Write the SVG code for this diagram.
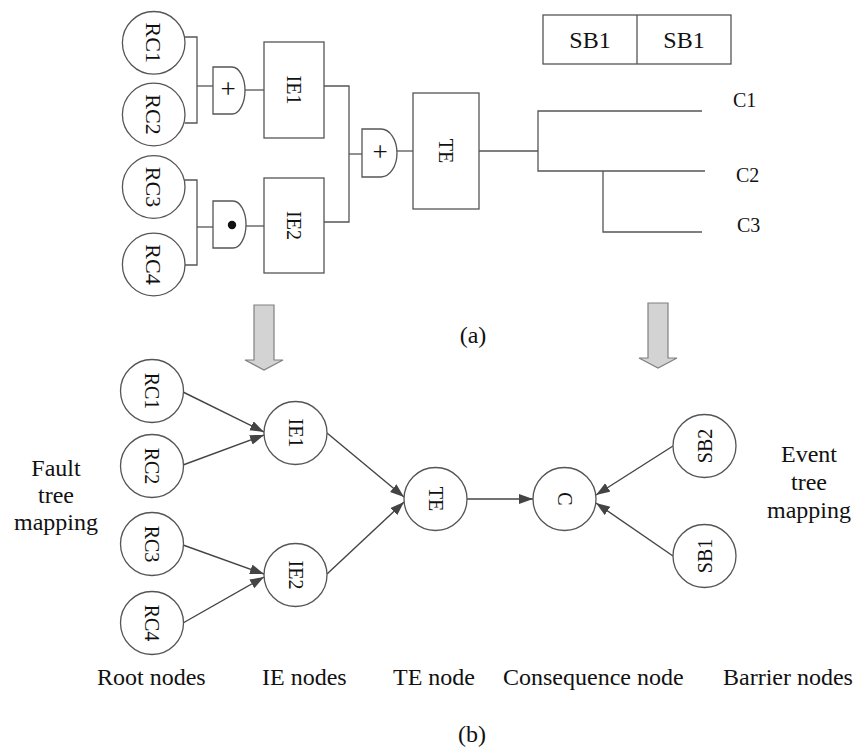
<svg xmlns="http://www.w3.org/2000/svg" width="854" height="749" viewBox="0 0 854 749">
<defs>
<style>
.ln{fill:none;stroke:#555;stroke-width:1.3}
.nd{fill:#fff;stroke:#555;stroke-width:1.3}
.t{font-family:"Liberation Serif","Times New Roman",serif;fill:#111}
.c{text-anchor:middle;dominant-baseline:central}
.ed{fill:none;stroke:#444;stroke-width:1.4;marker-end:url(#ah)}
.ba{fill:#d3d3d3;stroke:#808080;stroke-width:1.2}
</style>
<marker id="ah" markerUnits="userSpaceOnUse" markerWidth="15" markerHeight="11" refX="14" refY="5" orient="auto">
<path d="M0,0 L14,5 L0,10 z" fill="#444"/>
</marker>
</defs>
<rect width="854" height="749" fill="#fff"/>

<!-- (a) fault tree / event tree -->
<g id="connectors-a">
<path class="ln" d="M184.5,37 H197 V123 H184.5"/>
<path class="ln" d="M197,86 H213"/>
<path class="ln" d="M245,90 H264"/>
<path class="ln" d="M184.2,180 H197 V265 H185"/>
<path class="ln" d="M197,227 H213"/>
<path class="ln" d="M246,226 H264"/>
<path class="ln" d="M324,86 H349 V222 H324"/>
<path class="ln" d="M349,154 H362"/>
<path class="ln" d="M397,151 H413"/>
<path class="ln" d="M479,151 H538"/>
<path class="ln" d="M702,111 H538 V171 H705"/>
<path class="ln" d="M603,171 V232 H702"/>
</g>
<g id="a-RC1"><circle class="nd" cx="153.7" cy="42.8" r="31.3"/><text class="t c" font-size="22" transform="rotate(90 153.7 42.8)" x="153.7" y="42.8">RC1</text></g>
<g id="a-RC2"><circle class="nd" cx="153.7" cy="114.5" r="31.3"/><text class="t c" font-size="22" transform="rotate(90 153.7 114.5)" x="153.7" y="114.5">RC2</text></g>
<g id="a-RC3"><circle class="nd" cx="153.7" cy="187" r="31.3"/><text class="t c" font-size="22" transform="rotate(90 153.7 187)" x="153.7" y="187">RC3</text></g>
<g id="a-RC4"><circle class="nd" cx="153.7" cy="264.5" r="31.3"/><text class="t c" font-size="22" transform="rotate(90 153.7 264.5)" x="153.7" y="264.5">RC4</text></g>
<g id="a-OR1"><path class="nd" d="M213,67 H232 A13,23.5 0 0 1 232,114 H213 Z"/><text class="t c" font-size="27" x="228" y="89">+</text></g>
<g id="a-AND1"><path class="nd" d="M213,201 H233 A13,23.5 0 0 1 233,248 H213 Z"/><circle cx="232" cy="225" r="4.2" fill="#111"/></g>
<g id="a-IE1"><rect class="nd" x="264" y="42" width="60" height="96"/><text class="t c" font-size="20" transform="rotate(90 294 90)" x="294" y="90">IE1</text></g>
<g id="a-IE2"><rect class="nd" x="264" y="178" width="60" height="95"/><text class="t c" font-size="20" transform="rotate(90 294 225.5)" x="294" y="225.5">IE2</text></g>
<g id="a-OR2"><path class="nd" d="M362,129 H381 A16,24 0 0 1 381,177 H362 Z"/><text class="t c" font-size="27" x="380" y="152">+</text></g>
<g id="a-TE"><rect class="nd" x="413" y="93" width="66" height="116"/><text class="t c" font-size="20" transform="rotate(90 446 151)" x="446" y="151">TE</text></g>
<g id="a-C1"><text class="t" font-size="20" x="733" y="107">C1</text></g>
<g id="a-C2"><text class="t" font-size="20" x="736" y="182">C2</text></g>
<g id="a-C3"><text class="t" font-size="20" x="737" y="232">C3</text></g>
<g id="a-SB"><rect class="nd" x="543" y="15" width="188" height="49"/><path class="ln" d="M637,15 V64"/>
<text class="t" font-size="24" text-anchor="middle" x="590" y="48">SB1</text>
<text class="t" font-size="24" text-anchor="middle" x="684" y="48">SB1</text></g>
<text class="t" font-size="24" text-anchor="middle" x="473" y="343">(a)</text>

<!-- mapping arrows -->
<g id="map-arrows">
<path class="ba" d="M254,305 H274 V360 H283 L264,370 L245,360 H254 Z"/>
<path class="ba" d="M648,303 H668 V358 H677 L658,368 L639,358 H648 Z"/>
</g>

<!-- (b) Bayesian network -->
<g id="connectors-b">
<path class="ed" d="M183,392 L264,432"/>
<path class="ed" d="M183,465 L264,435"/>
<path class="ed" d="M183,545 L264,574"/>
<path class="ed" d="M183,623 L264,577"/>
<path class="ed" d="M327,433 L404,497"/>
<path class="ed" d="M327,574 L404,502"/>
<path class="ed" d="M467,499 L533,499"/>
<path class="ed" d="M673,446 L596,495"/>
<path class="ed" d="M673,556 L596,503"/>
</g>
<g id="b-RC1"><circle class="nd" cx="152" cy="391" r="31.5"/><text class="t c" font-size="20" transform="rotate(90 152 391)" x="152" y="391">RC1</text></g>
<g id="b-RC2"><circle class="nd" cx="152" cy="466" r="31.5"/><text class="t c" font-size="20" transform="rotate(90 152 466)" x="152" y="466">RC2</text></g>
<g id="b-RC3"><circle class="nd" cx="152" cy="544" r="31.5"/><text class="t c" font-size="20" transform="rotate(90 152 544)" x="152" y="544">RC3</text></g>
<g id="b-RC4"><circle class="nd" cx="152" cy="623" r="31.5"/><text class="t c" font-size="20" transform="rotate(90 152 623)" x="152" y="623">RC4</text></g>
<g id="b-IE1"><circle class="nd" cx="295.5" cy="433" r="31.5"/><text class="t c" font-size="20" transform="rotate(90 295.5 433)" x="295.5" y="433">IE1</text></g>
<g id="b-IE2"><circle class="nd" cx="295.5" cy="575" r="31.5"/><text class="t c" font-size="20" transform="rotate(90 295.5 575)" x="295.5" y="575">IE2</text></g>
<g id="b-TE"><circle class="nd" cx="435.5" cy="499" r="31.5"/><text class="t c" font-size="20" transform="rotate(90 435.5 499)" x="435.5" y="499">TE</text></g>
<g id="b-C"><circle class="nd" cx="564.5" cy="499" r="31.5"/><text class="t c" font-size="20" transform="rotate(90 564.5 499)" x="564.5" y="499">C</text></g>
<g id="b-SB2"><circle class="nd" cx="704.5" cy="446" r="31.5"/><text class="t c" font-size="20" transform="rotate(-90 704.5 446)" x="704.5" y="446">SB2</text></g>
<g id="b-SB1"><circle class="nd" cx="704.5" cy="556" r="31.5"/><text class="t c" font-size="20" transform="rotate(-90 704.5 556)" x="704.5" y="556">SB1</text></g>

<g id="labels-b" class="t" font-size="24">
<text x="56" y="476" text-anchor="middle">Fault</text>
<text x="56" y="503" text-anchor="middle">tree</text>
<text x="56" y="530" text-anchor="middle">mapping</text>
<text x="809" y="462" text-anchor="middle">Event</text>
<text x="809" y="490" text-anchor="middle">tree</text>
<text x="809" y="518" text-anchor="middle">mapping</text>
<text x="97" y="685">Root nodes</text>
<text x="262" y="685">IE nodes</text>
<text x="393" y="685">TE node</text>
<text x="503" y="685">Consequence node</text>
<text x="723" y="685">Barrier nodes</text>
<text x="472" y="742" text-anchor="middle">(b)</text>
</g>
</svg>
